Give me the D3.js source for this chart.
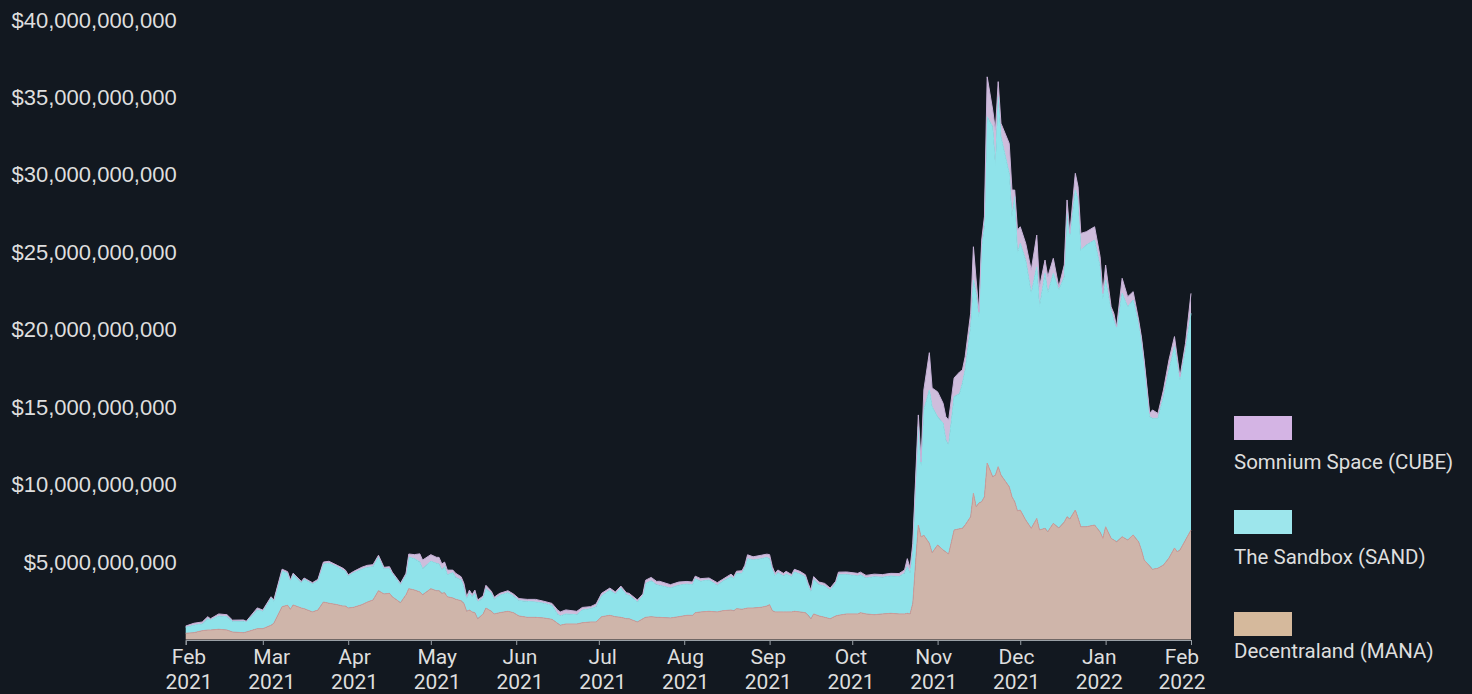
<!DOCTYPE html>
<html>
<head>
<meta charset="utf-8">
<script src="https://cdn.jsdelivr.net/npm/d3@7"></script>
<style>
  body { margin: 0; background: #121820; }
  svg { display: block; font-family: Roboto, "Noto Sans", sans-serif; }
</style>
</head>
<body>
<svg id="chart" width="1472" height="694"></svg>
<script>
// daily market cap readings (billions of USD)
const dates = ["2021-02-01","2021-02-04","2021-02-07","2021-02-09","2021-02-10","2021-02-13","2021-02-16","2021-02-18","2021-02-22","2021-02-23","2021-02-27",
  "2021-03-01","2021-03-04","2021-03-05","2021-03-08","2021-03-10","2021-03-11","2021-03-12","2021-03-15","2021-03-16","2021-03-19","2021-03-21","2021-03-23","2021-03-25","2021-03-28","2021-03-30","2021-03-31",
  "2021-04-01","2021-04-03","2021-04-06","2021-04-08","2021-04-10","2021-04-12","2021-04-14","2021-04-16","2021-04-17","2021-04-20","2021-04-22","2021-04-23","2021-04-25","2021-04-27","2021-04-28",
  "2021-05-01","2021-05-03","2021-05-04","2021-05-05","2021-05-06","2021-05-07","2021-05-09","2021-05-10","2021-05-12","2021-05-13","2021-05-14","2021-05-15","2021-05-16","2021-05-17","2021-05-18","2021-05-20","2021-05-21","2021-05-23","2021-05-24","2021-05-26","2021-05-29","2021-05-31",
  "2021-06-02","2021-06-05","2021-06-08","2021-06-11","2021-06-14","2021-06-16","2021-06-17","2021-06-19","2021-06-23","2021-06-25","2021-06-28","2021-06-30",
  "2021-07-02","2021-07-05","2021-07-07","2021-07-09","2021-07-11","2021-07-12","2021-07-15","2021-07-17","2021-07-18","2021-07-20","2021-07-22","2021-07-23","2021-07-27","2021-07-30",
  "2021-08-02","2021-08-04","2021-08-05","2021-08-07","2021-08-10","2021-08-13","2021-08-15","2021-08-18","2021-08-19","2021-08-20","2021-08-22","2021-08-23","2021-08-24","2021-08-26","2021-08-29","2021-08-31",
  "2021-09-01","2021-09-02","2021-09-03","2021-09-04","2021-09-06","2021-09-07","2021-09-09","2021-09-10","2021-09-12","2021-09-14","2021-09-15","2021-09-16","2021-09-17","2021-09-19","2021-09-21","2021-09-23","2021-09-25","2021-09-26","2021-09-29",
  "2021-10-03","2021-10-04","2021-10-06","2021-10-09","2021-10-12","2021-10-15","2021-10-18","2021-10-20","2021-10-21","2021-10-22","2021-10-23","2021-10-24","2021-10-25","2021-10-26","2021-10-27","2021-10-29","2021-10-30",
  "2021-11-01","2021-11-03","2021-11-04","2021-11-05","2021-11-07","2021-11-09","2021-11-10","2021-11-11","2021-11-13","2021-11-14","2021-11-15","2021-11-16","2021-11-17","2021-11-18","2021-11-19","2021-11-21","2021-11-22","2021-11-23","2021-11-24","2021-11-27","2021-11-28","2021-11-29","2021-11-30",
  "2021-12-01","2021-12-03","2021-12-05","2021-12-07","2021-12-08","2021-12-10","2021-12-11","2021-12-13","2021-12-15","2021-12-17","2021-12-18","2021-12-19","2021-12-21","2021-12-22","2021-12-23","2021-12-25","2021-12-28","2021-12-30","2021-12-31",
  "2022-01-01","2022-01-03","2022-01-04","2022-01-05","2022-01-07","2022-01-09","2022-01-11","2022-01-13","2022-01-14","2022-01-15","2022-01-17","2022-01-18","2022-01-20","2022-01-22","2022-01-24","2022-01-26","2022-01-27","2022-01-28","2022-01-30",
  "2022-02-01"];

const mana = [0.40,0.44,0.57,0.61,0.61,0.66,0.61,0.48,0.44,0.48,0.70,
  0.70,0.92,1.05,2.12,2.21,1.95,2.23,2.03,1.99,1.78,1.90,2.42,2.34,2.25,2.16,2.16,
  2.03,2.08,2.25,2.42,2.55,3.15,2.94,2.98,2.76,2.38,2.89,3.28,3.20,3.07,2.89,
  3.28,3.15,3.15,2.98,3.02,2.76,2.68,2.60,2.50,2.34,1.82,1.90,1.78,1.73,1.34,1.65,2.03,1.82,1.65,1.73,1.82,1.73,
  1.52,1.43,1.43,1.39,1.30,1.05,0.92,1.00,1.00,1.08,1.13,1.13,
  1.47,1.56,1.47,1.43,1.34,1.34,1.13,1.34,1.43,1.47,1.43,1.43,1.39,1.47,
  1.56,1.56,1.73,1.78,1.82,1.78,1.86,1.90,1.86,1.99,1.95,1.99,2.03,2.03,2.08,2.16,
  2.25,1.86,1.78,1.78,1.78,1.78,1.78,1.82,1.78,1.73,1.56,1.34,1.65,1.52,1.43,1.34,1.52,1.56,1.65,
  1.65,1.73,1.65,1.60,1.65,1.69,1.65,1.65,1.69,1.65,2.34,4.92,7.39,6.62,6.73,6.21,5.60,
  6.10,5.78,5.65,5.52,7.07,7.15,7.18,7.39,7.93,9.44,8.57,8.81,8.90,9.22,11.39,10.51,10.62,11.16,10.62,9.86,9.22,8.90,8.30,
  8.36,7.71,7.18,7.82,7.07,7.18,6.96,7.50,7.20,7.59,7.93,7.78,8.36,7.84,7.28,7.28,7.39,6.94,6.53,
  7.28,6.53,6.42,6.31,6.64,6.42,6.75,6.30,5.78,5.13,4.74,4.53,4.60,4.81,5.26,5.91,5.67,5.78,6.42,
  7.07];

const sand = [0.39,0.48,0.43,0.73,0.65,0.86,0.86,0.69,0.74,0.65,1.21,
  1.12,1.76,1.42,2.29,2.07,1.81,1.96,1.63,1.90,1.81,1.89,2.45,2.58,2.45,2.32,2.24,
  2.07,2.23,2.29,2.24,2.15,2.16,1.63,1.59,1.51,1.16,1.29,2.03,2.02,1.94,1.68,
  1.77,1.77,1.72,1.50,1.68,1.42,1.63,1.42,1.34,1.07,0.81,1.08,0.99,1.25,1.08,1.03,1.25,1.16,0.95,1.12,1.20,1.08,
  0.99,1.03,0.99,0.95,0.90,0.60,0.60,0.65,0.60,0.82,0.86,0.99,
  1.34,1.63,1.47,1.89,1.55,1.51,1.29,1.47,2.19,2.32,2.10,2.07,1.94,2.03,
  2.02,1.98,2.19,1.98,2.02,1.72,1.90,2.15,2.07,2.29,2.32,2.63,3.18,3.10,3.14,3.14,
  2.97,2.63,2.32,2.54,2.32,2.45,2.28,2.54,2.45,2.32,1.94,1.72,2.24,2.02,2.02,1.85,2.11,2.62,2.54,
  2.45,2.45,2.32,2.45,2.37,2.41,2.41,2.63,3.01,2.63,3.44,4.95,6.35,4.58,8.09,9.90,9.43,
  8.28,8.18,7.23,7.04,8.61,8.74,9.36,10.01,12.27,13.77,13.78,12.03,16.46,17.43,22.36,22.60,19.90,23.89,21.84,20.23,18.08,19.69,16.64,
  17.22,16.78,15.17,16.24,14.42,16.46,15.39,16.14,15.36,15.84,19.59,18.22,20.66,20.53,17.86,18.19,18.40,17.13,15.49,
  15.93,14.74,14.20,13.78,15.71,15.06,15.17,14.12,13.56,12.70,9.64,9.75,9.68,10.87,12.14,13.00,12.25,10.97,12.27,
  13.99];

const cube = [0.08,0.13,0.13,0.13,0.08,0.13,0.13,0.08,0.08,0.05,0.13,
  0.08,0.08,0.08,0.13,0.10,0.08,0.09,0.09,0.08,0.08,0.09,0.13,0.13,0.09,0.13,0.08,
  0.08,0.09,0.13,0.13,0.13,0.13,0.09,0.13,0.08,0.09,0.09,0.21,0.26,0.52,0.56,
  0.43,0.39,0.43,0.39,0.30,0.30,0.17,0.26,0.21,0.22,0.13,0.21,0.13,0.21,0.13,0.13,0.22,0.13,0.13,0.13,0.13,0.13,
  0.13,0.13,0.17,0.13,0.13,0.26,0.26,0.26,0.22,0.17,0.13,0.17,
  0.17,0.13,0.13,0.13,0.13,0.13,0.13,0.13,0.21,0.22,0.22,0.26,0.21,0.21,
  0.17,0.17,0.17,0.17,0.13,0.17,0.13,0.17,0.13,0.13,0.17,0.17,0.26,0.21,0.22,0.21,
  0.26,0.21,0.17,0.17,0.17,0.17,0.13,0.17,0.17,0.13,0.13,0.13,0.17,0.17,0.17,0.13,0.13,0.17,0.17,
  0.17,0.17,0.17,0.17,0.17,0.17,0.20,0.21,0.52,0.34,0.43,0.43,0.76,0.26,1.29,2.41,1.21,
  1.61,1.29,1.50,1.61,1.21,1.39,0.86,0.86,0.87,2.15,0.86,0.30,0.43,0.65,2.58,1.08,2.37,0.97,0.87,1.94,1.72,0.43,1.50,
  1.07,1.08,1.50,2.05,1.29,0.86,1.07,0.97,0.21,0.76,0.86,0.22,1.08,0.86,1.08,0.86,0.86,0.65,0.32,
  0.97,0.21,0.43,0.10,0.97,0.65,0.54,0.21,0.19,0.21,0.22,0.54,0.32,0.43,0.65,0.65,0.32,0.21,0.43,
  1.29];

const seriesKeys = ["mana", "sand", "cube"];
const seriesNames = ["Decentraland (MANA)", "The Sandbox (SAND)", "Somnium Space (CUBE)"];
const yTicks = [5, 10, 15, 20, 25, 30, 35, 40];
const monthNames = ["Feb", "Mar", "Apr", "May", "Jun", "Jul", "Aug", "Sep", "Oct", "Nov", "Dec", "Jan", "Feb"];
const monthYears = ["2021", "2021", "2021", "2021", "2021", "2021", "2021", "2021", "2021", "2021", "2021", "2022", "2022"];

const fillColor = { mana: "#cfb5aa", sand: "#8fe3ea", cube: "#cebddc" };
const edgeColor = { mana: "#cf9c9a", sand: "#8fe3ea", cube: "#c7b1d8" };
const swatchColor = { mana: "#d5b99c", sand: "#9de6ec", cube: "#d4b4e4" };
const textColor = "#dedede";

const svg = d3.select("#chart");

const parse = d3.utcParse("%Y-%m-%d");
const table = dates.map((d, i) => ({ date: parse(d), mana: mana[i], sand: sand[i], cube: cube[i] }));

const x = d3.scaleUtc()
  .domain([parse("2021-02-01"), parse("2022-02-01")])
  .range([185.7, 1191]);

const y = d3.scaleLinear()
  .domain([0, 40])
  .range([639.5, 20]);

const stacked = d3.stack().keys(seriesKeys)(table);

const area = d3.area()
  .x(d => x(d.data.date))
  .y0(d => y(d[0]))
  .y1(d => y(d[1]));

const topLine = d3.line()
  .x(d => x(d.data.date))
  .y(d => y(d[1]));

// areas
svg.append("g")
  .selectAll("path")
  .data(stacked)
  .join("path")
  .attr("d", area)
  .attr("fill", d => fillColor[d.key]);

// thin edge on top of each layer
svg.append("g")
  .selectAll("path")
  .data(stacked)
  .join("path")
  .attr("d", topLine)
  .attr("fill", "none")
  .attr("stroke", d => edgeColor[d.key])
  .attr("stroke-width", 1);

// y axis labels
const yAxis = svg.append("g")
  .attr("transform", "translate(185.7,0)")
  .call(d3.axisLeft(y)
    .tickValues(yTicks)
    .tickSize(0)
    .tickPadding(9)
    .tickFormat(v => "$" + d3.format(",")(v * 1e9)));
yAxis.select(".domain").remove();
yAxis.selectAll("text")
  .attr("fill", textColor)
  .style("font-size", "22px")
  .attr("dy", "0.32em");

// x axis: month ticks on the time scale
const xAxis = svg.append("g")
  .attr("transform", "translate(0,640)")
  .call(d3.axisBottom(x)
    .ticks(d3.utcMonth.every(1))
    .tickSize(5)
    .tickFormat(""));
xAxis.select(".domain").attr("stroke", "#9aa0a6");
xAxis.selectAll(".tick line").attr("stroke", "#9aa0a6");

// month labels, spaced evenly along the axis
const labelPos = d3.scalePoint()
  .domain(d3.range(monthNames.length))
  .range([189, 1182]);

const labels = svg.append("g")
  .attr("fill", textColor)
  .style("font-size", "21px")
  .attr("text-anchor", "middle");

labels.selectAll("text.month")
  .data(monthNames)
  .join("text")
  .attr("class", "month")
  .attr("x", (d, i) => labelPos(i))
  .attr("y", 664)
  .text(d => d);

labels.selectAll("text.year")
  .data(monthYears)
  .join("text")
  .attr("class", "year")
  .attr("x", (d, i) => labelPos(i))
  .attr("y", 689)
  .text(d => d);

// legend (top to bottom: CUBE, SAND, MANA)
const legendOrder = [2, 1, 0];
const swatchTop = [416, 510, 612];
const labelBase = [469, 564, 658];

const legend = svg.append("g");
legend.selectAll("rect")
  .data(legendOrder)
  .join("rect")
  .attr("x", 1234)
  .attr("y", (d, i) => swatchTop[i])
  .attr("width", 58)
  .attr("height", 24)
  .attr("fill", d => swatchColor[seriesKeys[d]]);

legend.selectAll("text")
  .data(legendOrder)
  .join("text")
  .attr("x", 1234)
  .attr("y", (d, i) => labelBase[i])
  .attr("fill", textColor)
  .style("font-size", "20.5px")
  .text(d => seriesNames[d]);
</script>
</body>
</html>
